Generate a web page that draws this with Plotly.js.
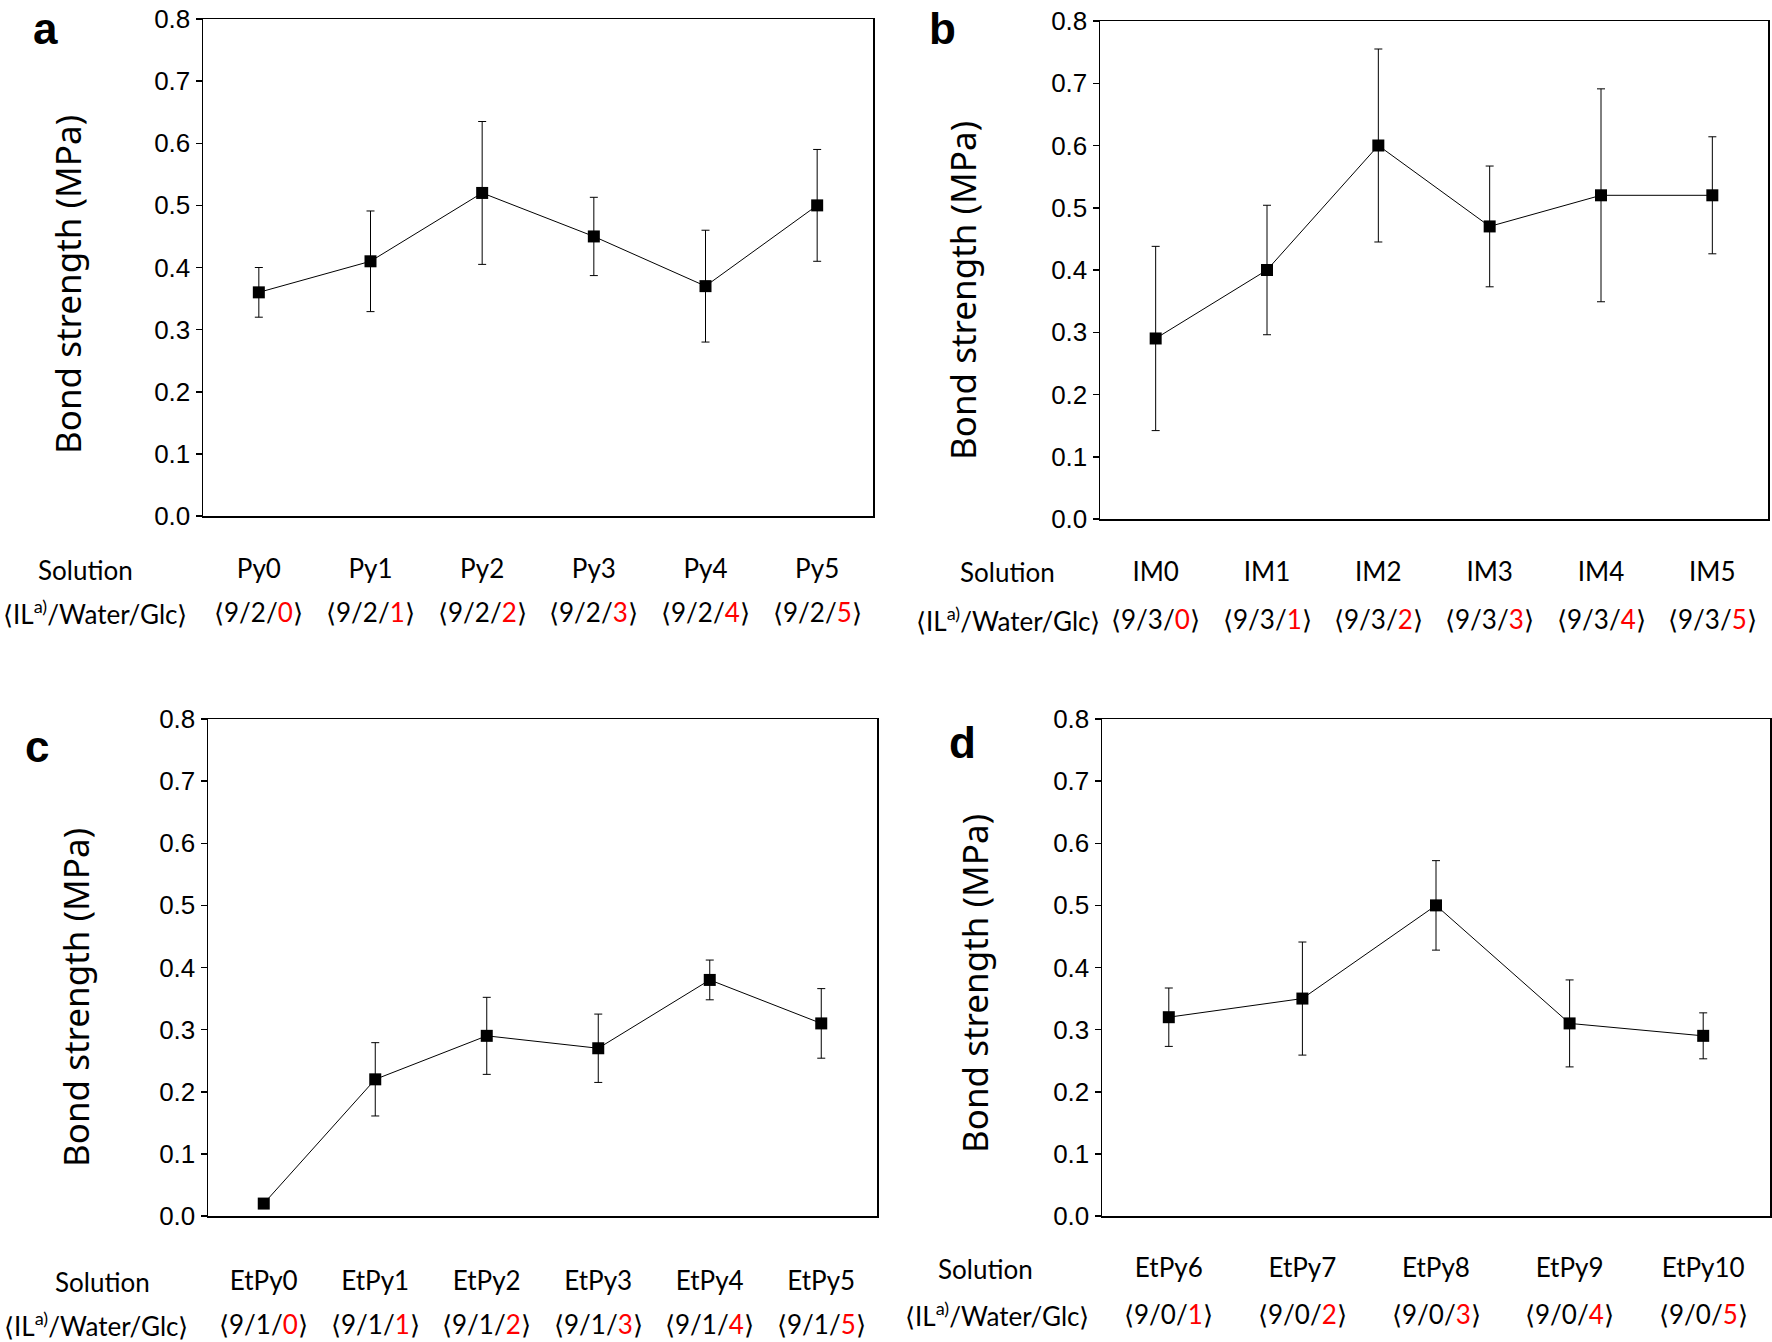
<!DOCTYPE html>
<html>
<head>
<meta charset="utf-8">
<script src="https://cdn.plot.ly/plotly-3.0.1.min.js"></script>
<style>html,body{margin:0;padding:0;background:#fff;}</style>
</head>
<body>
<div id="chart" style="width:1772px;height:1342px;"></div>
<script>
// ---- Data ----
const solA = ['Py0','Py1','Py2','Py3','Py4','Py5'];
const ratioA = ['9/2/0','9/2/1','9/2/2','9/2/3','9/2/4','9/2/5'];
const valA = [0.36,0.41,0.52,0.45,0.37,0.50];
const errA = [0.04,0.081,0.115,0.063,0.09,0.09];

const solB = ['IM0','IM1','IM2','IM3','IM4','IM5'];
const ratioB = ['9/3/0','9/3/1','9/3/2','9/3/3','9/3/4','9/3/5'];
const valB = [0.29,0.40,0.60,0.47,0.52,0.52];
const errB = [0.148,0.104,0.155,0.097,0.171,0.094];

const solC = ['EtPy0','EtPy1','EtPy2','EtPy3','EtPy4','EtPy5'];
const ratioC = ['9/1/0','9/1/1','9/1/2','9/1/3','9/1/4','9/1/5'];
const valC = [0.02,0.22,0.29,0.27,0.38,0.31];
const errC = [0,0.059,0.062,0.055,0.032,0.056];

const solD = ['EtPy6','EtPy7','EtPy8','EtPy9','EtPy10'];
const ratioD = ['9/0/1','9/0/2','9/0/3','9/0/4','9/0/5'];
const valD = [0.32,0.35,0.50,0.31,0.29];
const errD = [0.047,0.091,0.072,0.07,0.037];

const yTicks = [0,0.1,0.2,0.3,0.4,0.5,0.6,0.7,0.8];
const rowLabel1 = 'Solution';
const rowLabel2 = '⟨IL<sup>a)</sup>/Water/Glc⟩';
const yTitle = 'Bond strength (MPa)';
const letters = ['a','b','c','d'];

// ---- Layout helpers ----
const W = 1772, H = 1342;
const px = x => x / W;
const py = y => 1 - y / H;

const panels = [
  {sol: solA, ratio: ratioA, val: valA, err: errA, box: [203, 873, 19, 516], standoff: 29, row2: 612, lx1: 85, lx2: 95, letter: [45, 28], title: [68, 285]},
  {sol: solB, ratio: ratioB, val: valB, err: errB, box: [1100, 1768, 21, 519], standoff: 29, row2: 619, lx1: 1007, lx2: 1008, letter: [942, 28], title: [963, 290]},
  {sol: solC, ratio: ratioC, val: valC, err: errC, box: [208, 877, 719, 1216], standoff: 41, row2: 1324, lx1: 102, lx2: 96, letter: [37, 746], title: [75, 998]},
  {sol: solD, ratio: ratioD, val: valD, err: errD, box: [1102, 1770, 719, 1216], standoff: 28, row2: 1314, lx1: 985, lx2: 997, letter: [962, 742], title: [974, 984]}
];
const row1Y = [570, 572, 1282, 1269];

const traces = [];
const layout = {
  width: W, height: H,
  margin: {l: 0, r: 0, t: 0, b: 0},
  paper_bgcolor: '#fff', plot_bgcolor: '#fff',
  showlegend: false,
  annotations: []
};

const catFont = {family: 'Lato, "Noto Sans", sans-serif', size: 26, color: '#000'};

function ratioText(r) {
  const i = r.lastIndexOf('/');
  return '⟨' + r.slice(0, i + 1) + '<span style="color:#ff0000">' + r.slice(i + 1) + '</span>⟩';
}

panels.forEach((p, k) => {
  const n = k + 1;
  const xa = 'xaxis' + (n === 1 ? '' : n);
  const ya = 'yaxis' + (n === 1 ? '' : n);
  const xid = 'x' + (n === 1 ? '' : n);
  const yid = 'y' + (n === 1 ? '' : n);
  const [l, r, t, b] = p.box;

  traces.push({
    type: 'scatter', mode: 'lines+markers',
    x: p.sol, y: p.val,
    xaxis: xid, yaxis: yid,
    line: {color: '#000', width: 1},
    marker: {symbol: 'square', size: 12, color: '#000'},
    error_y: {type: 'data', array: p.err, visible: true, color: '#000', thickness: 1, width: 4},
    cliponaxis: false
  });

  layout[xa] = {
    domain: [px(l), px(r)], anchor: yid,
    type: 'category',
    range: [-0.5, p.sol.length - 0.5],
    showline: true, mirror: true, linecolor: '#000', linewidth: 1.5,
    ticks: '', showgrid: false, zeroline: false,
    tickfont: catFont, ticklabelstandoff: p.standoff
  };
  layout[ya] = {
    domain: [py(b), py(t)], anchor: xid,
    range: [0, 0.8], tickvals: yTicks, tickformat: '.1f',
    showline: true, mirror: true, linecolor: '#000', linewidth: 1.5,
    ticks: 'outside', ticklen: 6, tickwidth: 1.5, tickcolor: '#000',
    showgrid: false, zeroline: false,
    tickfont: {family: '"Liberation Sans", Arial, sans-serif', size: 26, color: '#000'}
  };

  // y-axis title (placed as rotated text, slightly below the axis centre as in the reference)
  layout.annotations.push({
    x: px(p.title[0]), xref: 'paper', y: py(p.title[1]), yref: 'paper',
    text: yTitle, textangle: -90, showarrow: false,
    font: {family: '"Noto Sans", sans-serif', size: 35, color: '#000'},
    xanchor: 'center', yanchor: 'middle'
  });

  p.ratio.forEach((rt, i) => {
    layout.annotations.push({
      x: p.sol[i], xref: xid, y: py(p.row2), yref: 'paper',
      text: ratioText(rt), showarrow: false, font: catFont,
      xanchor: 'center', yanchor: 'middle'
    });
  });
  layout.annotations.push({
    x: px(p.lx1), xref: 'paper', y: py(row1Y[k]), yref: 'paper',
    text: rowLabel1, showarrow: false, font: catFont, xanchor: 'center', yanchor: 'middle'
  });
  layout.annotations.push({
    x: px(p.lx2), xref: 'paper', y: py(p.row2), yref: 'paper',
    text: rowLabel2, showarrow: false, font: catFont, xanchor: 'center', yanchor: 'middle'
  });
  layout.annotations.push({
    x: px(p.letter[0]), xref: 'paper', y: py(p.letter[1]), yref: 'paper',
    text: '<b>' + letters[k] + '</b>', showarrow: false,
    font: {family: '"Liberation Sans", Arial, sans-serif', size: 44, color: '#000'},
    xanchor: 'center', yanchor: 'middle'
  });
});

Plotly.newPlot('chart', traces, layout, {staticPlot: true, displayModeBar: false});
</script>
</body>
</html>
